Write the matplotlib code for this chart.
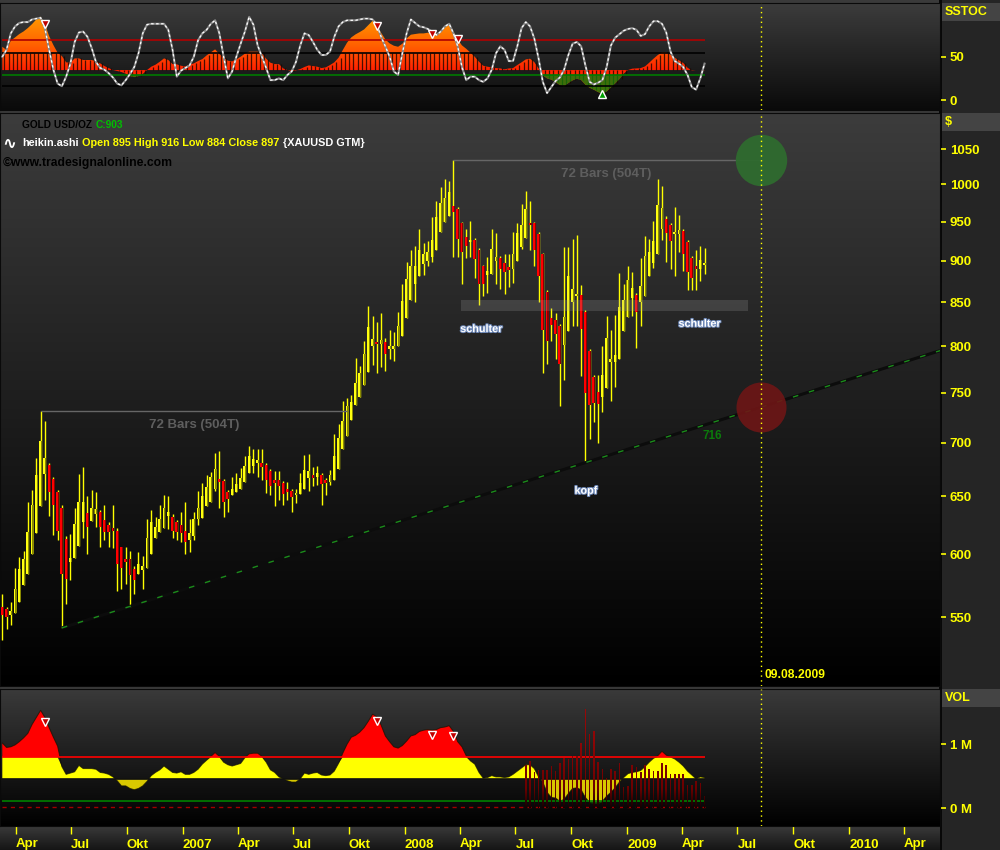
import datetime as dt
import numpy as np
import matplotlib
matplotlib.use("Agg")
import matplotlib.pyplot as plt
import matplotlib.dates as mdates
import matplotlib.patheffects as pe
from matplotlib.path import Path
from matplotlib.patches import PathPatch, Rectangle
from matplotlib.colors import LinearSegmentedColormap
from matplotlib.ticker import FixedLocator, NullLocator, FixedFormatter
from matplotlib.text import Annotation

FONT = ['Liberation Sans Narrow', 'Liberation Sans', 'DejaVu Sans']
plt.rcParams['font.family'] = FONT
plt.rcParams['font.weight'] = 'bold'

# ---------------- data (weekly Heikin-Ashi bars, GOLD USD/OZ) ----------------
first_bar = dt.datetime(2006, 3, 10)
target_date = dt.datetime(2009, 8, 9)

ha_open = [558,556,552,553,562,575,584,600,618,641, 670,679,666,654,640,613,594,597,607,627,
           635,628,634,636,629,625,622,620,606,596, 596,588,584,587,589,600,614,619,622,633,
           632,627,625,620,612,615,630,631,641,645, 657,666,664,654,651,654,657,663,671,678,
           681,681,679,673,665,665,662,657,655,651, 652,657,667,669,668,669,665,663,665,675,
           694,707,722,737,746,758,772,800,804,802, 804,797,797,800,811,832,853,872,881,896,
           900,905,914,937,950,957,971,967,948,930, 924,926,914,893,882,884,900,904,897,892,
           890,900,917,929,948,948,934,908,862,832, 829,823,801,817,850,857,859,839,795,767,
           751,746,755,783,783,786,817,833,855,859, 850,857,881,897,909,940,954,946,934,934,
           938,924,904,893,890,895]
ha_close = [552,550,555,572,588,596,619,642,669,702, 685,654,642,620,584,580,597,626,645,645,
            623,640,639,623,619,619,620,592,589,594, 583,579,592,590,614,627,623,630,640,636,
            620,619,618,610,618,630,640,650,658,668, 675,663,645,648,657,661,667,678,687,684,
            682,677,665,659,662,659,652,654,649,652, 662,674,673,667,671,661,662,669,687,705,
            721,736,740,760,771,791,821,808,802,807, 791,800,800,823,851,878,893,893,914,909,
            911,926,956,975,982,990,963,927,911,918, 926,902,872,872,887,915,905,890,886,888,
            908,935,946,967,945,914,881,818,806,824, 813,780,833,881,866,860,819,750,737,739,
            738,769,809,785,790,844,853,876,867,839, 869,906,911,925,972,968,935,925,937,939,
            908,886,879,890,901,897]
ha_high = [568,558,562,589,598,603,645,656,685,731, 721,681,668,656,642,615,617,640,670,677,
           650,656,654,638,642,627,642,622,606,606, 603,590,602,599,630,638,632,642,651,650,
           634,629,636,645,630,636,655,662,669,672, 690,692,666,656,668,671,676,687,697,694,
           694,694,681,675,673,673,664,663,657,657, 671,688,689,677,678,671,667,674,708,718,
           741,745,748,787,778,806,846,834,827,837, 809,818,816,839,872,898,914,919,941,922,
           925,956,978,996,1008,1005,1034,969,950,940, 951,929,916,895,905,940,935,906,909,908,
           936,948,973,991,977,950,936,910,864,843, 837,825,917,917,927,932,870,841,797,769,
           769,800,834,818,835,885,872,893,886,861, 904,931,928,951,1007,998,958,948,969,959,
           940,926,906,913,918,916]
ha_low = [533,541,544,553,562,575,584,600,618,641, 647,633,616,612,542,560,579,597,607,614,
          600,628,623,606,612,606,605,570,572,576, 558,568,584,572,589,600,614,619,622,621,
          614,612,610,600,602,612,625,631,641,645, 655,640,632,636,651,654,657,663,671,671,
          668,665,653,651,641,647,642,647,636,644, 652,657,655,659,660,642,651,660,665,675,
          694,707,722,737,746,758,772,779,771,777, 773,786,784,800,811,832,853,850,881,882,
          893,898,914,937,950,957,905,905,872,903, 905,879,847,857,861,884,872,866,860,868,
          873,900,915,929,914,894,850,771,780,806, 786,736,763,817,823,823,768,681,704,720,
          700,730,755,741,756,786,817,833,834,798, 823,857,881,891,909,926,898,890,881,911,
          887,864,864,864,875,884]

stoch_k = [50,58,77,85,89,90,90,93,94,95, 83,58,35,19,16,27,42,67,78,79,
           73,60,44,37,35,31,26,19,17,23, 30,38,54,77,87,88,88,88,88,81,
           58,27,34,37,40,50,69,77,81,88, 92,77,50,25,33,50,65,79,96,87,
           63,50,37,23,23,25,23,29,33,44, 63,77,75,67,58,52,52,56,73,85,
           90,92,92,92,93,94,94,93,87,73, 62,50,33,29,54,77,93,89,85,84,
           82,79,75,79,85,88,77,62,38,23, 27,27,23,21,25,35,54,62,58,45,
           45,62,83,90,85,71,48,21,8,15, 22,26,35,52,65,67,62,40,21,18,
           20,23,38,63,72,76,80,82,83,81, 74,76,85,91,91,88,78,56,45,42,
           38,29,15,12,25,42]
stoch_hist = [61.5,57.7,68.5,72.3,76.2,79.2,83.1,87.7,93.1,96.2, 87.7,73.8,63.5,54.6,50.8,43.5,43.1,48.1,48.1,46.2,
              46.2,46.2,44.6,42.3,39.2,36.9,34.6,33.5,32.3,30.4, 27.7,26.5,27.7,30,34.6,38.5,40.8,44.2,48.1,46.2,
              41.5,41.2,39.6,38.8,40.8,42.3,45,47.3,51.5,55, 58.5,53.1,48.8,45.4,44.6,46.9,50,53.5,55.8,55.8,
              55.8,53.8,47.7,43.1,41.5,41.5,36.5,34.6,33.5,34.2, 35.8,38.1,40,39.2,38.5,36.9,37.7,40.4,43.5,48.8,
              57.7,66.2,72.3,75.8,78.5,81.5,86.5,91.5,85.4,77.7, 70,65.4,62.7,61.5,65,71.2,75.4,76.2,76.9,76.9,
              77.7,76.5,76.5,80,84.6,88.5,78.8,70,63.1,59.2, 54.6,50,44.2,39.6,38.5,37.7,36.9,36.5,35.4,36.5,
              36.9,40.4,43.5,46.9,47.7,43.8,36.5,28.5,25,23.5, 20.8,17.3,15.8,19.6,22.7,24.6,23.1,17.7,14.2,11.9,
              9.2,7.3,10,14.6,19.2,24.2,30.4,34.6,36.2,36.5, 36.9,38.8,43.1,47.7,51.9,55,55,52.3,48.8,45.8,
              42.7,37.3,34.2,34.6,34.6,34.2]
stoch_hist_base = 34.6
stoch_upper, stoch_mid, stoch_lower, stoch_low2 = 69, 54, 29, 16

vol_osc = [1.02,0.95,0.96,0.99,1.04,1.10,1.17,1.31,1.42,1.53, 1.42,1.26,1.11,0.97,0.65,0.53,0.55,0.57,0.67,0.62,
           0.62,0.62,0.61,0.56,0.55,0.53,0.49,0.43,0.35,0.35, 0.31,0.29,0.31,0.35,0.42,0.51,0.56,0.60,0.66,0.61,
           0.56,0.55,0.57,0.53,0.53,0.56,0.61,0.69,0.75,0.81, 0.87,0.81,0.72,0.68,0.66,0.68,0.70,0.79,0.85,0.86,
           0.86,0.81,0.72,0.60,0.56,0.49,0.46,0.43,0.41,0.41, 0.46,0.55,0.53,0.55,0.56,0.52,0.51,0.52,0.58,0.70,
           0.86,1.00,1.11,1.14,1.19,1.26,1.36,1.47,1.43,1.30, 1.13,1.04,0.96,0.94,0.98,1.05,1.13,1.15,1.20,1.22,
           1.23,1.22,1.23,1.26,1.27,1.29,1.20,1.04,0.96,0.82, 0.74,0.69,0.56,0.47,0.48,0.51,0.49,0.49,0.48,0.49,
           0.53,0.58,0.63,0.68,0.68,0.62,0.49,0.41,0.25,0.17, 0.16,0.11,0.14,0.23,0.31,0.32,0.29,0.17,0.09,0.08,
           0.08,0.11,0.19,0.25,0.32,0.41,0.48,0.54,0.56,0.57, 0.59,0.65,0.72,0.78,0.82,0.89,0.83,0.80,0.77,0.72,
           0.66,0.58,0.52,0.46,0.49,0.48]
vol_osc_base = 0.458
vol_upper, vol_lower, vol_dash = 0.80, 0.109, 0.025
volume_first_bar = 123
volume_m = [0.68,0.74,0.56,0.60,0.60,0.60,0.66,0.58,0.70,0.79, 0.77,0.82,0.82,1.02,1.55,1.16,1.21,0.73,0.62,0.48,
            0.61,0.59,0.70,0.34,0.35,0.68,0.65,0.56,0.67,0.62, 0.58,0.58,0.71,0.67,0.53,0.54,0.54,0.54,0.36,0.37,
            0.43,0.39,0.19]

price_ticks = [550, 600, 650, 700, 750, 800, 850, 900, 950, 1000, 1050]
stoch_ticks, stoch_tick_labels = [0, 50], ['0', '50']
vol_ticks, vol_tick_labels = [0, 1], ['0 M', '1 M']
x_tick_dates = ['2006-04-01', '2006-07-01', '2006-10-01', '2007-01-01', '2007-04-01', '2007-07-01',
                '2007-10-01', '2008-01-01', '2008-04-01', '2008-07-01', '2008-10-01', '2009-01-01',
                '2009-04-01', '2009-07-01', '2009-10-01', '2010-01-01', '2010-04-01']
x_tick_labels = ['Apr', 'Jul', 'Okt', '2007', 'Apr', 'Jul', 'Okt', '2008', 'Apr', 'Jul', 'Okt',
                 '2009', 'Apr', 'Jul', 'Okt', '2010', 'Apr']

projection_peaks = [9, 106]
projection_bars = 72
trend_anchor_bars = [14, 137]
trend_label = '716'
stoch_sell_bars = [10, 88, 101, 107]
stoch_buy_bars = [141]
vol_sell_bars = [10, 88, 101, 106]
support_zone = (840, 853)
support_dates = ('2008-04-02', '2009-07-19')

# ---------------- figure helpers ----------------
W, H = 1000, 850
fig = plt.figure(figsize=(10, 8.5), dpi=100, facecolor='#3a3a3a')
TICK_FS = 9.5


def rect(x0, y0, x1, y1):
    return [x0 / W, 1 - y1 / H, (x1 - x0) / W, (y1 - y0) / H]


def grad_axes(r, top, bottom, z=0):
    a = fig.add_axes(r, zorder=z)
    cm = LinearSegmentedColormap.from_list('g', [bottom, top])
    a.imshow(np.linspace(0, 1, 256).reshape(-1, 1), cmap=cm, origin='lower',
             aspect='auto', extent=[0, 1, 0, 1], interpolation='bilinear')
    a.set_xlim(0, 1); a.set_ylim(0, 1); a.axis('off')
    return a


def data_axes(r):
    a = fig.add_axes(r, zorder=1)
    a.set_facecolor('none')
    for s in a.spines.values():
        s.set_color('#0a0a0a')
    return a


def grad_clip(ax, path, cmap, y0, y1, z):
    patch = PathPatch(path, transform=ax.transData, facecolor='none', edgecolor='none')
    ax.add_patch(patch)
    xl, yl = ax.get_xlim(), ax.get_ylim()
    im = ax.imshow(np.linspace(0, 1, 256).reshape(-1, 1), cmap=cmap, origin='lower',
                   aspect='auto', extent=[xl[0], xl[1], y0, y1], zorder=z,
                   interpolation='bilinear')
    im.set_clip_path(patch)
    ax.set_xlim(xl); ax.set_ylim(yl)


def bars_path(x, bottoms, tops, width):
    verts, codes = [], []
    for xi, a, b in zip(x, bottoms, tops):
        lo, hi = min(a, b), max(a, b)
        verts += [(xi - width / 2, lo), (xi + width / 2, lo), (xi + width / 2, hi),
                  (xi - width / 2, hi), (xi - width / 2, lo)]
        codes += [Path.MOVETO, Path.LINETO, Path.LINETO, Path.LINETO, Path.CLOSEPOLY]
    return Path(verts, codes)


def right_ticks(ax, ticks, labels):
    ax.yaxis.set_major_locator(FixedLocator(ticks))
    ax.yaxis.set_major_formatter(FixedFormatter(labels))
    ax.yaxis.set_minor_locator(NullLocator())
    ax.tick_params(axis='y', which='both', left=False, labelleft=False, right=True,
                   labelright=True, colors='#ffff00', length=4, width=1.2, pad=3,
                   labelsize=TICK_FS)
    ax.tick_params(axis='x', which='both', bottom=False, labelbottom=False)


n = min(len(ha_open), len(ha_close), len(ha_high), len(ha_low))
dates = [first_bar + dt.timedelta(weeks=i) for i in range(n)]
xd = mdates.date2num(dates)
xlim = (mdates.date2num(dt.datetime(2006, 3, 6, 5)), mdates.date2num(dt.datetime(2010, 5, 30, 6)))
xt = mdates.date2num(target_date)
last = xd[-1]

# right column & bands
fig.add_artist(Rectangle((940 / W, 0), 60 / W, 1, transform=fig.transFigure,
                         facecolor='#252525', edgecolor='none', zorder=-2))
fig.add_artist(Rectangle((939 / W, 0), 2.5 / W, 1, transform=fig.transFigure,
                         facecolor='#080808', edgecolor='none', zorder=-1))
for (y0, y1, label) in [(3, 21, 'SSTOC'), (113, 131, '$'), (689, 707, 'VOL')]:
    fig.add_artist(Rectangle((942 / W, 1 - y1 / H), 58 / W, (y1 - y0) / H,
                             transform=fig.transFigure, facecolor='#444444',
                             edgecolor='none', zorder=-1))
    fig.text(945 / W, 1 - (y0 + y1) / 2 / H, label, color='#ffff00', fontsize=9,
             va='center', ha='left', zorder=5)

grad_axes(rect(0, 3, 940, 110), '#3c3c3c', '#0a0a0a')
grad_axes(rect(0, 113, 940, 686), '#3c3c3c', '#000000')
grad_axes(rect(0, 689, 940, 826), '#3a3a3a', '#000000')
grad_axes(rect(0, 826, 940, 850), '#3a3a3a', '#151515')

# ---------------- stochastic panel ----------------
ax1 = data_axes(rect(0, 3, 940, 110))
ax1.set_xlim(xlim); ax1.set_ylim(-11.5, 112)
right_ticks(ax1, stoch_ticks, stoch_tick_labels)
sh = np.array(stoch_hist[:n])
poly = ax1.fill_between(xd, stoch_hist_base, sh, color='none', lw=0)
hist_path = Path.make_compound_path(*poly.get_paths())
hcm = LinearSegmentedColormap.from_list('h', [(0, '#ff7000'), (0.215, '#ff4a00'), (0.373, '#ff2000'),
                                              (0.58, '#ff5a00'), (0.9, '#ffa000'), (1, '#ffa800')])
grad_clip(ax1, hist_path, hcm, -11.5, 112, 2)
stripe_top = np.where(sh > stoch_hist_base, np.minimum(sh, stoch_mid), sh)
ax1.vlines(xd + 3.5, stoch_hist_base, stripe_top, colors='#1a0500', lw=0.9, alpha=0.8, zorder=2.5)
ax1.fill_between(xd, sh, stoch_lower, where=sh < stoch_lower, interpolate=True,
                 color='#0d7a0d', alpha=0.8, lw=0, zorder=2.6)
for lvl, col in [(stoch_upper, '#b00000'), (stoch_mid, '#000000'), (stoch_lower, '#007a00'),
                 (stoch_low2, '#000000')]:
    ax1.hlines(lvl, xd[0], last, colors=col, lw=1.2, zorder=3)
ax1.plot(xd, stoch_k[:n], color='#8a8a8a', lw=1.5, zorder=4)
ax1.plot(xd, stoch_k[:n], color='white', lw=0.9, dashes=(2, 2), zorder=4.5)
ax1.plot(xd[stoch_sell_bars], sh[stoch_sell_bars], 'v', ms=6, mfc='#c00000', mec='white',
         mew=1, zorder=6)
ax1.plot(xd[stoch_buy_bars], sh[stoch_buy_bars], '^', ms=6, mfc='#00a000', mec='white',
         mew=1, zorder=6)
ax1.axvline(xt, color='#ffff00', lw=1, ls=(0, (1, 2.5)), zorder=5)

# ---------------- main price panel ----------------
ax = data_axes(rect(0, 113, 940, 686))
ax.set_yscale('log')
ax.set_xlim(xlim); ax.set_ylim(500.2, 1103.8)
right_ticks(ax, price_ticks, [str(t) for t in price_ticks])

o = np.array(ha_open[:n], float); c = np.array(ha_close[:n], float)
hh = np.array(ha_high[:n], float); ll = np.array(ha_low[:n], float)
up = c >= o
lo = np.minimum(o, c); hi = np.maximum(o, c)
hgt = np.maximum(hi - lo, lo * 0.003)
w = 4.8
ax.vlines(xd, ll, hh, colors='#ffff00', lw=1, zorder=3)
ax.bar(xd[up], hgt[up], w, bottom=lo[up], color='#8a8a00', lw=0, zorder=4)
ax.bar(xd[up] - w * 0.18, hgt[up], w * 0.62, bottom=lo[up], color='#ffff10', lw=0, zorder=4.5)
ax.bar(xd[~up], hgt[~up], w, bottom=lo[~up], color='#8a0000', lw=0, zorder=4)
ax.bar(xd[~up] - w * 0.18, hgt[~up], w * 0.62, bottom=lo[~up], color='#ff0000', lw=0, zorder=4.5)

# support band
s0 = mdates.date2num(dt.datetime.fromisoformat(support_dates[0]))
s1 = mdates.date2num(dt.datetime.fromisoformat(support_dates[1]))
ax.add_patch(Rectangle((s0, support_zone[0]), s1 - s0, support_zone[1] - support_zone[0],
                       facecolor='#a0a0a0', alpha=0.22, edgecolor='none', zorder=5))

# 72-bar projections
for b in projection_peaks:
    x_end = xd[b] + projection_bars * 7
    ax.hlines(hh[b], xd[b], x_end, colors='#666666', lw=1, zorder=5)
    ax.annotate(f'{projection_bars} Bars ({projection_bars * 7}T)', xy=((xd[b] + x_end) / 2, hh[b]),
                xytext=(0, -14), textcoords='offset pixels', ha='center', va='center',
                color='#5e5e5e', fontsize=9.5, zorder=5)

# trend line
a0, a1 = trend_anchor_bars
slope = (np.log(ll[a1]) - np.log(ll[a0])) / (xd[a1] - xd[a0])
tx = np.array([xd[a0], xlim[1]])
ty = np.exp(np.log(ll[a0]) + slope * (tx - xd[a0]))
ax.plot(tx, ty, color='#0c0c0c', lw=2.2, zorder=5, solid_capstyle='butt')
ax.plot(tx, ty, color='#1b8c1b', lw=1, dashes=(4, 8), zorder=5.1)
lbl_x = mdates.date2num(dt.datetime(2009, 5, 20))
ax.annotate(trend_label, xy=(lbl_x, np.exp(np.log(ll[a0]) + slope * (lbl_x - xd[a0]))),
            xytext=(0, -13), textcoords='offset pixels', ha='center', va='center',
            color='#0b7a0b', fontsize=8.5, zorder=6)

# target circles
ax.plot([xt], [hh[projection_peaks[1]]], 'o', ms=37, mfc='#2f6b2f', mec='none', alpha=0.95, zorder=6)
ax.plot([xt], [np.exp(np.log(ll[a0]) + slope * (xt - xd[a0]))], 'o', ms=36, mfc='#6e1616',
        mec='none', alpha=0.9, zorder=6)
ax.axvline(xt, color='#ffff00', lw=1, ls=(0, (1, 2.5)), zorder=7)
ax.annotate(target_date.strftime('%d.%m.%Y'), xy=(xt, 0.019), xycoords=('data', 'axes fraction'),
            xytext=(3, 0), textcoords='offset pixels', ha='left', va='center',
            color='#ffff00', fontsize=8.7, zorder=7)

# labels
stroke = [pe.withStroke(linewidth=1.4, foreground='#6d88b8')]
for txt, d, p in [('schulter', '2008-05-06', 819), ('schulter', '2009-04-30', 825), ('kopf', '2008-10-25', 655)]:
    ax.text(mdates.date2num(dt.datetime.fromisoformat(d)), p, txt, color='white', fontsize=7.8,
            ha='center', va='center', path_effects=stroke, zorder=7)

# header texts


def chain(parts, x, y, size):
    t = fig.text(x / W, 1 - y / H, parts[0][0], color=parts[0][1], fontsize=size,
                 va='center', ha='left', zorder=5)
    for s, col in parts[1:]:
        t = Annotation(s, xy=(1, 0.5), xycoords=t, xytext=(2.5, 0), textcoords='offset points',
                       va='center', ha='left', color=col, fontsize=size, zorder=5)
        fig.add_artist(t)


chain([('GOLD USD/OZ', '#000000'), ('C:903', '#00c000')], 22, 125, 7.3)
fig.text(2 / W, 1 - 144 / H, '∿', color='white', fontsize=12, va='center', ha='left', zorder=5)
chain([('heikin.ashi', '#ffffff'), (f'Open {ha_open[n-1]} High {ha_high[n-1]} Low {ha_low[n-1]} Close {ha_close[n-1]}', '#ffff00'),
       ('{XAUUSD GTM}', '#ffffff')], 22, 143, 7.8)
fig.text(3 / W, 1 - 163 / H, '©www.tradesignalonline.com', color='#000000', fontsize=8.7,
         va='center', ha='left', zorder=5)

# ---------------- volume panel ----------------
ax3 = data_axes(rect(0, 689, 940, 826))
ax3.set_xlim(xlim); ax3.set_ylim(-0.277, 1.864)
right_ticks(ax3, vol_ticks, vol_tick_labels)
vo = np.array(vol_osc[:n])
ax3.fill_between(xd, vol_osc_base, np.minimum(vo, vol_upper), where=vo >= vol_osc_base,
                 interpolate=True, color='#ffff00', lw=0, zorder=2)
ax3.fill_between(xd, vol_upper, vo, where=vo > vol_upper, interpolate=True,
                 color='#ff0000', lw=0, zorder=2)
ax3.fill_between(xd, vo, vol_osc_base, where=vo < vol_osc_base, interpolate=True,
                 color='#d8c800', lw=0, zorder=2)
ax3.fill_between(xd, vo, vol_lower, where=vo < vol_lower, interpolate=True,
                 color='#0b6b0b', lw=0, zorder=2.1)
ax3.plot(xd, vo, color='#111100', lw=0.7, alpha=0.7, zorder=2.2)
ax3.hlines(vol_osc_base, xd[0], last, colors='#101010', lw=1.2, zorder=2.3)
ax3.hlines(vol_upper, xd[0], last, colors='#ff0000', lw=1.2, zorder=2.3)
ax3.hlines(vol_lower, xd[0], last, colors='#008000', lw=1.2, zorder=2.3)
ax3.hlines(vol_dash, xd[0], last, colors='#a00000', lw=1, linestyles=(0, (3, 3)), zorder=2.3)
vx = xd[volume_first_bar:volume_first_bar + len(volume_m)]
vcm = LinearSegmentedColormap.from_list('v', [(0, '#000000'), (0.129, '#100000'), (0.27, '#6a0000'),
                                              (0.6, '#8c0606'), (1, '#a00a0a')])
grad_clip(ax3, bars_path(vx, np.zeros(len(vx)), volume_m, 2.6), vcm, -0.277, 1.864, 3)
ax3.plot(xd[vol_sell_bars], vo[vol_sell_bars] - 0.07, 'v', ms=6, mfc='#c00000', mec='white',
         mew=1, zorder=6)
ax3.axvline(xt, color='#ffff00', lw=1, ls=(0, (1, 2.5)), zorder=5)

tick_x = mdates.date2num([dt.datetime.fromisoformat(d) for d in x_tick_dates])
ax3.set_xticks(tick_x)
ax3.set_xticklabels(x_tick_labels)
ax3.tick_params(axis='x', which='both', bottom=True, labelbottom=True, direction='out',
                length=6, width=1, color='#ffff00', labelcolor='#ffff00', labelsize=TICK_FS, pad=3)
for t in ax3.get_xticklabels():
    t.set_ha('left')

fig.savefig('out.png', dpi=100, facecolor=fig.get_facecolor())
